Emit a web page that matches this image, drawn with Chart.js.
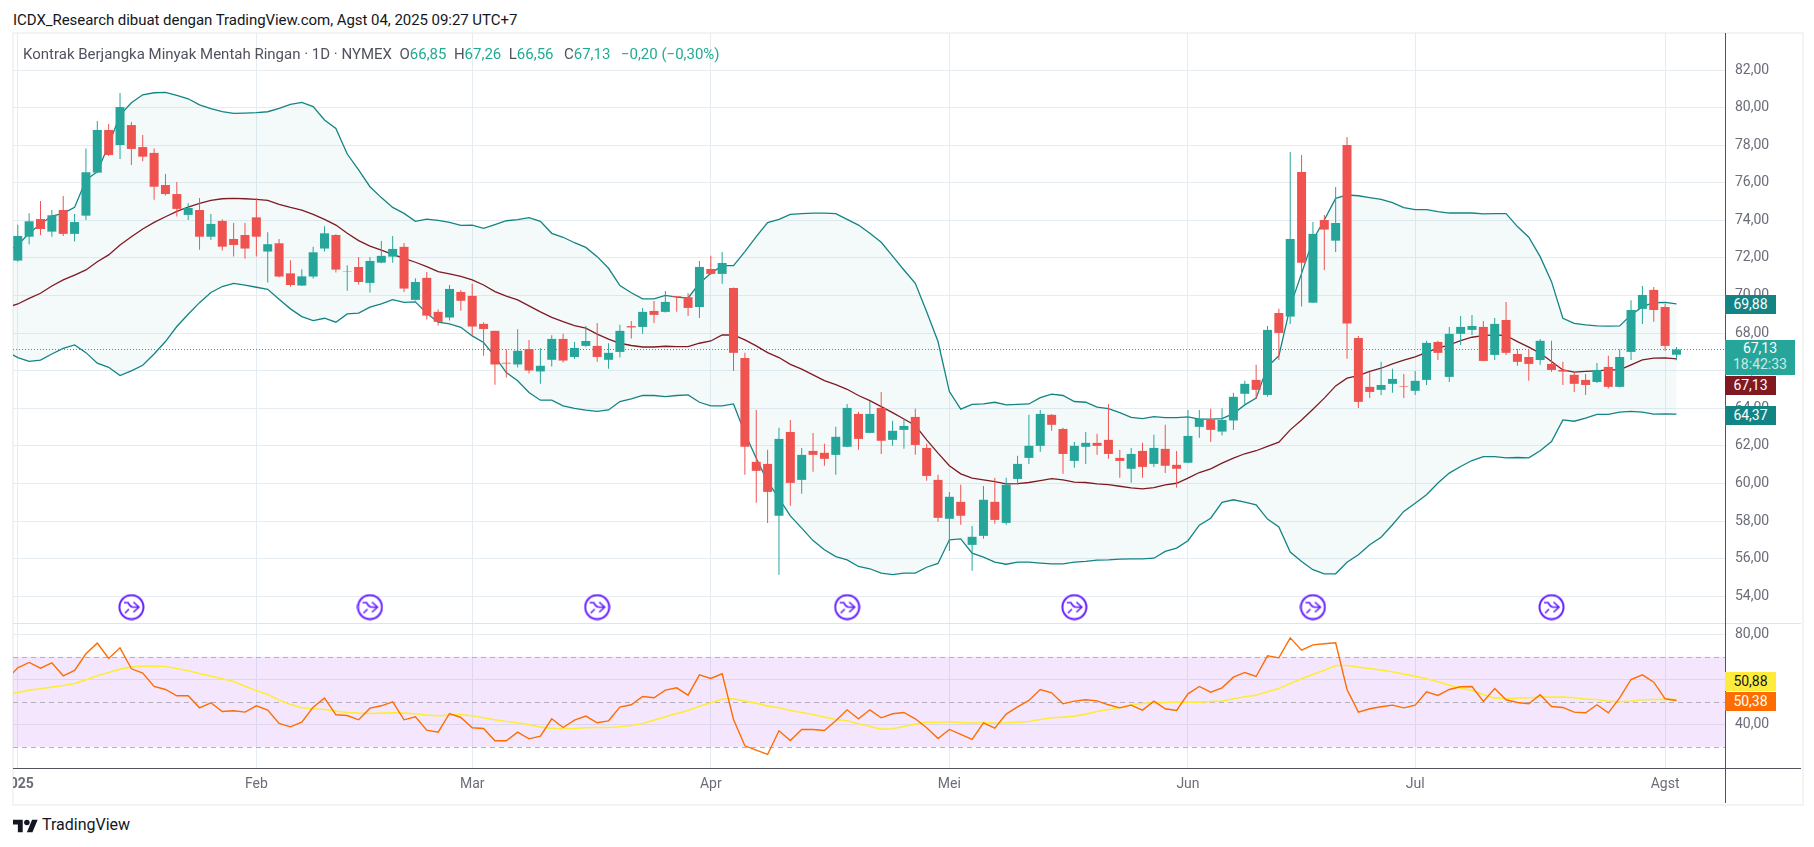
<!DOCTYPE html>
<html>
<head>
<meta charset="utf-8">
<script src="https://cdn.jsdelivr.net/npm/chart.js@4"></script>
<style>
  html, body { margin: 0; background: #fff; width: 1814px; height: 847px; overflow: hidden; font-family: Roboto, sans-serif; }
  canvas { position: absolute; left: 13px; }
  #cPrice { top: 33px; }
  #cRsi { top: 624px; }
  .abs { position: absolute; white-space: nowrap; }
  .frame { position: absolute; left: 12px; top: 32px; width: 1788px; height: 770px; border: 2px solid #f3f3f3; }
  .tag { position: absolute; left: 1725px; width: 51px; height: 19px; line-height: 19px; font-size: 14px; text-align: center; color: #fff; }
  #head { left: 13px; top: 10px; font-size: 15px; color: #131722; line-height: 20px; letter-spacing: -0.05px; }
  #legend { left: 23px; top: 44px; font-size: 15px; color: #50535e; line-height: 20px; }
  #legend b { font-weight: 400; color: #22ab94; }
  #legend i { font-style: normal; margin-left: 3px; }
  #logoText { left: 42px; top: 814px; font-size: 16px; color: #131722; line-height: 22px; }
</style>
</head>
<body>
<div class="frame"></div>
<canvas id="cPrice" width="1788" height="591"></canvas>
<canvas id="cRsi" width="1788" height="178"></canvas>

<div class="abs" style="left:13px;top:623px;width:1788px;height:1px;background:#e0e3eb"></div>
<div class="abs" style="left:13px;top:768px;width:1788px;height:1px;background:#50535e"></div>
<div class="abs" style="left:1725px;top:33px;width:1px;height:770px;background:#50535e"></div>

<div class="abs" id="head">ICDX_Research dibuat dengan TradingView.com, Agst 04, 2025 09:27 UTC+7</div>
<div class="abs" id="legend">Kontrak Berjangka Minyak Mentah Ringan · 1D · NYMEX&nbsp;&nbsp;O<b>66,85</b>&nbsp;&nbsp;H<b>67,26</b>&nbsp;&nbsp;L<b>66,56</b>&nbsp;&nbsp;<i>C</i><b>67,13</b>&nbsp;&nbsp;<i></i><b>−0,20 (−0,30%)</b></div>

<div class="tag" style="top:295px;background:#138484">69,88</div>
<div class="tag" style="top:340px;width:70px;height:35px;background:#26a69a;line-height:16px;padding-top:0">67,13<br><span style="opacity:.75">18:42:33</span></div>
<div class="tag" style="top:376px;background:#801922">67,13</div>
<div class="tag" style="top:406px;background:#138484">64,37</div>
<div class="tag" style="top:672px;background:#ffeb3b;color:#131722">50,88</div>
<div class="tag" style="top:692px;background:#ff6d00">50,38</div>

<svg class="abs" style="left:13px;top:818px" width="25" height="16" viewBox="0 3 36 20"><path fill="#131722" d="M14 22H7V11H0V4h14v18ZM28 22h-8l7.5-18h8L28 22Z"/><circle fill="#131722" cx="20" cy="8" r="4"/></svg>
<div class="abs" id="logoText">TradingView</div>

<script>
const opens = [71.86,73.13,74.07,73.40,74.55,73.28,74.25,76.54,78.81,78.01,79.07,77.90,77.59,75.88,75.40,74.29,74.55,73.13,73.97,73.01,73.22,74.16,72.34,72.78,71.18,70.53,71.01,72.50,73.22,71.27,71.52,70.67,71.75,72.07,72.59,69.77,70.94,69.13,68.83,70.19,69.98,68.49,68.12,66.42,66.33,67.15,65.96,66.58,67.69,66.73,67.32,67.32,66.58,67.00,68.37,68.33,69.18,69.13,69.96,69.91,69.39,71.41,71.15,70.40,66.68,61.15,61.04,58.28,62.74,60.19,61.73,61.63,61.52,61.95,63.70,62.69,64.02,62.32,62.85,63.54,61.89,60.19,58.12,59.02,56.73,57.21,59.02,57.90,60.24,61.36,62.00,63.65,62.90,61.20,61.95,62.16,62.32,61.36,60.78,61.73,61.04,61.84,60.99,61.10,63.01,63.38,62.76,63.35,64.77,65.51,64.71,69.07,68.88,76.57,69.62,74.02,72.92,78.01,67.74,65.14,64.98,65.30,65.17,64.93,65.51,67.53,65.67,67.96,68.17,68.33,66.84,68.70,66.89,66.73,66.57,66.36,66.04,65.78,65.51,65.40,66.20,65.14,67.00,69.29,70.30,69.39,66.85];
const highs = [73.76,74.38,75.03,74.55,75.30,74.34,77.83,79.29,79.13,80.78,79.23,78.54,77.83,76.47,76.04,74.91,75.19,74.34,74.06,73.86,73.86,75.19,73.37,73.01,71.88,71.40,72.59,73.68,73.26,71.61,72.05,72.05,72.90,73.17,72.80,70.92,71.25,69.27,70.56,70.30,70.62,68.58,68.12,67.14,68.21,67.63,67.20,67.89,67.96,67.53,68.38,68.54,67.46,68.44,68.65,69.34,69.71,70.24,69.98,70.14,71.84,72.11,72.32,70.43,66.95,63.91,61.79,62.96,63.38,61.89,62.69,62.11,63.01,64.23,63.81,64.39,64.87,63.33,63.40,63.97,62.11,60.46,59.55,59.93,57.74,59.87,60.30,60.30,61.47,63.65,63.91,63.70,62.96,62.21,62.74,62.64,64.23,61.79,61.89,62.16,62.59,63.12,61.73,63.91,63.91,63.97,64.00,64.82,65.46,66.31,68.38,69.29,77.64,77.48,73.91,74.29,75.78,78.44,67.85,65.95,66.47,66.10,65.83,65.99,67.59,67.59,68.33,68.91,68.97,68.65,68.81,69.66,67.16,67.11,67.69,67.59,66.47,65.92,65.83,66.41,66.79,67.14,69.75,70.51,70.46,69.55,67.26];
const lows = [71.80,72.73,73.22,73.13,73.17,72.87,74.02,76.50,77.43,77.27,76.95,77.14,75.09,75.32,74.20,74.02,72.43,72.96,72.39,72.07,71.96,72.07,70.69,70.97,70.47,70.51,70.90,72.34,71.22,70.26,70.58,70.16,71.72,71.75,70.19,69.73,68.73,68.40,68.67,69.19,67.90,66.79,65.25,65.64,66.17,65.85,65.31,66.22,66.43,66.62,67.27,66.47,66.10,66.70,67.71,67.96,68.54,69.09,69.13,68.91,68.81,71.10,70.62,65.99,60.46,58.97,57.90,55.14,58.81,59.45,60.62,60.94,60.46,61.93,61.79,62.67,61.57,62.00,61.84,61.52,60.14,57.96,56.41,57.80,55.35,57.05,57.85,57.80,59.93,61.04,61.68,62.80,60.51,60.83,61.04,61.52,61.31,60.30,60.03,60.30,60.88,60.56,59.77,61.08,62.43,62.21,62.55,62.85,64.20,64.50,64.62,66.57,68.49,69.41,69.60,71.36,72.32,66.63,64.02,64.55,64.71,64.82,64.55,64.71,65.24,66.57,65.40,67.37,67.90,66.50,66.57,66.84,66.26,65.46,66.31,65.94,65.24,64.87,64.71,65.35,65.05,65.10,66.57,68.49,68.60,67.05,66.56];
const closes = [73.17,73.95,73.54,74.27,73.28,73.91,76.56,78.81,77.48,80.03,77.80,77.39,75.79,75.40,74.61,74.66,73.13,73.81,72.60,72.69,72.50,73.13,72.73,71.01,70.56,71.02,72.30,73.31,71.38,71.29,70.72,71.84,72.11,72.48,70.37,70.72,68.93,68.60,70.35,69.72,68.35,68.22,66.33,66.38,67.06,66.01,66.26,67.69,66.54,67.21,67.58,66.73,66.95,68.12,68.30,69.13,68.97,69.66,69.92,69.34,71.52,71.15,71.73,66.95,61.95,60.67,59.55,62.37,60.03,61.52,61.52,61.31,62.48,64.02,62.37,63.70,62.27,62.80,63.06,62.05,60.40,58.17,59.29,58.28,57.16,59.13,58.06,59.93,61.04,62.00,63.70,63.12,61.57,62.00,62.16,62.00,61.57,61.20,61.57,60.88,61.89,60.94,60.78,62.53,63.44,62.85,63.38,64.61,65.30,64.98,68.17,68.01,73.01,71.75,73.28,73.51,73.86,68.51,64.34,64.87,65.24,65.56,65.14,65.46,67.48,66.95,67.96,68.33,68.38,66.52,68.49,66.95,66.47,66.36,67.59,66.04,65.95,65.30,65.24,66.04,65.14,66.73,69.23,70.03,69.23,67.32,67.13];

// bands and rsi start one bar before the first candle, that bar is cut by the left edge
const bbUpper = [72.30,72.69,73.31,73.81,74.23,74.37,74.69,76.15,76.59,78.01,79.60,80.26,80.68,80.79,80.81,80.65,80.47,80.15,79.94,79.78,79.69,79.71,79.73,79.78,79.96,80.17,80.28,80.05,79.34,78.89,77.53,76.68,75.79,75.21,74.69,74.37,73.95,74.07,74.00,73.89,73.73,73.75,73.57,73.77,73.98,74.04,74.14,73.95,73.31,73.10,72.81,72.56,72.07,71.45,70.53,70.15,69.82,69.82,70.01,69.91,69.87,70.65,71.18,71.59,71.59,72.34,73.13,73.88,74.05,74.32,74.36,74.38,74.38,74.36,74.05,73.75,73.31,72.83,72.10,71.36,70.65,69.14,67.55,64.89,63.95,64.21,64.23,64.32,64.18,64.21,64.23,64.57,64.75,64.68,64.36,64.32,64.06,63.98,63.77,63.52,63.45,63.56,63.50,63.50,63.54,63.42,63.42,63.45,63.71,64.18,64.54,66.22,66.79,69.41,71.18,72.96,74.02,75.17,75.35,75.31,75.21,75.12,74.94,74.68,74.57,74.57,74.46,74.39,74.39,74.39,74.34,74.36,74.36,73.67,73.10,72.07,70.74,68.79,68.52,68.44,68.38,68.37,68.38,68.97,69.41,69.62,69.64,69.55];
const bbBasis = [69.35,69.55,69.85,70.12,70.51,70.83,71.09,71.36,71.80,72.16,72.69,73.13,73.54,73.89,74.19,74.48,74.71,74.90,75.06,75.15,75.17,75.15,75.12,75.06,74.85,74.69,74.55,74.32,74.05,73.75,73.31,72.92,72.63,72.42,72.19,71.98,71.77,71.54,71.27,71.15,71.02,70.83,70.56,70.21,69.97,69.77,69.45,69.13,68.84,68.61,68.40,68.26,67.95,67.68,67.46,67.34,67.26,67.26,67.30,67.28,67.28,67.46,67.58,67.90,67.90,67.64,67.32,66.96,66.70,66.34,66.08,65.78,65.47,65.26,65.01,64.68,64.41,64.09,63.77,63.43,63.08,62.32,61.61,60.94,60.51,60.28,60.19,60.10,59.98,59.99,60.05,60.15,60.26,60.19,60.07,60.05,59.98,59.94,59.85,59.76,59.71,59.78,59.92,60.01,60.28,60.58,60.78,61.08,61.35,61.58,61.74,61.97,62.20,62.85,63.38,63.95,64.54,65.19,65.60,65.74,65.96,66.13,66.36,66.56,66.74,66.97,67.20,67.37,67.60,67.78,67.87,67.91,67.87,67.55,67.25,66.93,66.49,66.04,65.92,65.96,65.99,66.04,66.04,66.31,66.58,66.67,66.68,66.63];
const bbLower = [67.02,66.70,66.50,66.56,66.89,67.19,67.37,66.96,66.40,66.18,65.74,65.99,66.29,66.89,67.55,68.35,69.00,69.62,70.16,70.48,70.65,70.55,70.44,70.33,69.80,69.29,68.88,68.67,68.79,68.58,69.02,69.06,69.38,69.55,69.78,69.64,69.66,69.06,68.58,68.49,68.31,67.85,67.50,66.75,65.90,65.46,64.84,64.43,64.43,64.13,64.00,63.90,63.83,63.91,64.36,64.50,64.68,64.68,64.62,64.68,64.71,64.32,64.13,64.13,64.23,62.67,61.34,60.10,59.21,58.27,57.62,56.96,56.47,56.11,55.93,55.58,55.46,55.23,55.15,55.23,55.23,55.54,55.74,57.00,57.05,56.29,56.08,55.81,55.70,55.81,55.81,55.76,55.72,55.72,55.81,55.85,55.92,55.93,55.97,55.99,55.99,56.02,56.38,56.56,56.95,57.78,58.15,58.99,59.13,59.01,58.86,58.10,57.68,56.35,55.85,55.41,55.19,55.19,55.81,56.20,56.74,57.14,57.80,58.51,58.95,59.40,60.02,60.55,60.90,61.22,61.43,61.43,61.36,61.38,61.36,61.74,62.23,63.38,63.31,63.47,63.67,63.67,63.79,63.83,63.79,63.69,63.70,63.69];
const rsiValues = [59.90,65.11,67.48,64.96,67.33,61.55,63.92,71.33,76.07,69.26,74.00,64.67,62.74,56.81,55.48,52.67,52.67,47.33,49.55,45.70,46.00,45.41,48.22,46.29,40.37,38.89,40.96,47.63,51.63,44.22,43.92,42.00,47.18,48.22,50.00,42.00,43.33,37.41,36.52,44.81,43.04,38.44,38.15,32.67,32.67,36.52,33.55,34.74,42.44,38.59,41.85,43.63,40.67,41.55,47.63,48.67,52.37,51.78,55.18,56.22,52.96,62.00,60.37,62.44,42.15,30.44,28.52,26.59,37.11,32.81,37.70,37.70,37.26,41.55,46.44,42.44,46.44,42.89,44.67,45.26,42.44,38.44,33.70,37.70,35.48,33.26,40.67,38.29,44.52,47.78,50.59,55.48,54.00,49.11,50.29,50.89,50.44,48.67,47.33,48.52,46.29,50.29,46.89,46.15,53.55,56.81,54.29,56.22,60.96,63.04,61.26,70.44,69.55,78.44,72.96,75.33,75.78,76.22,55.48,45.41,46.89,47.78,48.52,47.33,48.52,54.44,52.81,55.48,56.67,56.81,50.15,55.92,50.89,49.70,49.11,53.11,47.92,47.48,45.41,45.11,48.67,45.11,51.78,59.92,62.00,58.74,51.33,50.59];
const rsiMa = [53.40,54.15,55.18,55.78,56.52,57.26,58.15,59.78,61.55,63.04,64.52,65.41,65.85,65.85,65.70,64.81,63.78,62.59,61.41,60.22,59.04,56.96,55.04,53.26,50.74,48.81,47.33,46.89,46.59,45.85,45.26,44.96,44.81,44.96,45.11,44.96,44.67,44.07,43.78,44.07,44.37,43.78,42.89,42.00,41.26,40.67,39.78,38.74,38.15,38.15,38.15,38.44,38.59,38.59,38.89,39.48,40.37,41.85,43.33,44.81,46.15,48.07,49.55,51.18,51.33,50.29,49.41,48.07,47.33,46.15,45.26,44.37,43.18,42.15,41.55,40.22,39.04,37.85,38.00,39.04,40.07,40.96,40.81,41.11,40.81,40.52,40.81,40.52,40.67,40.96,41.26,42.15,42.89,43.18,43.63,44.52,45.70,46.59,47.33,48.67,49.26,49.70,49.70,49.85,49.85,49.85,50.15,50.29,51.33,52.22,52.96,54.44,55.92,58.15,60.22,62.15,64.07,66.15,66.15,65.41,64.81,64.07,63.33,62.30,61.41,60.22,58.89,57.41,56.07,55.04,53.26,51.63,51.48,51.63,51.78,52.07,52.07,52.07,51.78,51.18,51.04,50.29,50.00,50.29,50.89,51.04,51.18,51.04];

const monthBars = [0, 21, 40, 61, 82, 103, 123, 145];
const monthNames = ['2025', 'Feb', 'Mar', 'Apr', 'Mei', 'Jun', 'Jul', 'Agst'];
const priceTicks = [82, 80, 78, 76, 74, 72, 70, 68, 66, 64, 62, 60, 58, 56, 54];
const rsiTicks = [80, 60, 40];
const rsiLevels = [70, 50, 30];
const eventBars = [10, 31, 51, 73, 93, 114, 135];
const eventPrice = [53.42, 53.42, 53.42, 53.42, 53.42, 53.42, 53.42];

const GREEN = '#26a69a', RED = '#ef5350', TEAL = '#138484', MAROON = '#801922';
const GRID = '#e5ecf2', TEXT = '#6a6d78';
const xMin = -0.42, xMax = 150.27;
const comma = v => v.toFixed(2).replace('.', ',');
const candleColor = opens.map((o, i) => closes[i] >= o ? GREEN : RED);
const lineData = arr => arr.map((v, i) => ({x: i - 1, y: v}));

// little icon for the events row
function makeIcon() {
    const c = document.createElement('canvas');
    c.width = 27; c.height = 27;
    const g = c.getContext('2d');
    g.strokeStyle = '#651fff'; g.lineWidth = 2;
    g.beginPath(); g.arc(13.5, 13.5, 12, 0, Math.PI * 2); g.stroke();
    g.lineWidth = 1.6;
    g.beginPath(); g.moveTo(6, 9); g.lineTo(10, 9); g.quadraticCurveTo(12.5, 13.5, 15, 13.5); g.lineTo(20, 13.5); g.stroke();
    g.beginPath(); g.moveTo(15.5, 8.5); g.lineTo(21, 13.5); g.lineTo(15.5, 18.5); g.stroke();
    g.beginPath(); g.moveTo(7, 19.5); g.lineTo(11, 15.5); g.stroke();
    return c;
}

// vertical month lines and x axis shared by both panes
function xScale(showLabels) {
    return {
        type: 'linear', min: xMin, max: xMax, offset: false,
        afterBuildTicks: s => { s.ticks = monthBars.map(v => ({value: v})); },
        afterFit: s => { s.height = showLabels ? 34 : 0; s.paddingLeft = 0; s.paddingRight = 0; },
        grid: {color: GRID, drawTicks: false, offset: false},
        border: {display: false},
        ticks: {
            display: showLabels, autoSkip: false, maxRotation: 0, color: TEXT, padding: 8,
            font: c => ({family: 'Roboto', size: 14, weight: c.tick && c.tick.value === 0 ? 'bold' : 'normal'}),
            callback: v => monthNames[monthBars.indexOf(v)]
        }
    };
}

function yScale(min, max, ticks) {
    return {
        position: 'right', min, max,
        afterBuildTicks: s => { s.ticks = ticks.map(v => ({value: v})); },
        afterFit: s => { s.width = 76; s.paddingTop = 0; s.paddingBottom = 0; },
        grid: {color: GRID, drawTicks: false},
        border: {display: false},
        ticks: {color: TEXT, padding: 10, font: {family: 'Roboto', size: 14}, callback: comma}
    };
}

const lastLine = {
    id: 'lastLine',
    afterDatasetsDraw(chart) {
        const {ctx, chartArea: a, scales: {y}} = chart;
        const p = Math.round(y.getPixelForValue(closes[closes.length - 1])) + 0.5;
        ctx.save();
        ctx.strokeStyle = GREEN; ctx.lineWidth = 1; ctx.setLineDash([1, 2]);
        ctx.beginPath(); ctx.moveTo(a.left, p); ctx.lineTo(a.right, p); ctx.stroke();
        ctx.restore();
    }
};

const rsiBand = {
    id: 'rsiBand',
    beforeDatasetsDraw(chart) {
        const {ctx, chartArea: a, scales: {y}} = chart;
        const top = y.getPixelForValue(rsiLevels[0]), bot = y.getPixelForValue(rsiLevels[2]);
        ctx.save();
        ctx.fillStyle = 'rgba(175,82,240,0.14)';
        ctx.fillRect(a.left, top, a.right - a.left, bot - top);
        ctx.strokeStyle = '#b5b0bd'; ctx.lineWidth = 1; ctx.setLineDash([5, 4]);
        rsiLevels.forEach(l => {
            const p = Math.round(y.getPixelForValue(l)) + 0.5;
            ctx.beginPath(); ctx.moveTo(a.left, p); ctx.lineTo(a.right, p); ctx.stroke();
        });
        ctx.restore();
    }
};

const baseOptions = {
    responsive: false, animation: false, events: [],
    layout: {padding: 0, autoPadding: false},
    plugins: {legend: {display: false}, tooltip: {enabled: false}}
};

new Chart(document.getElementById('cPrice'), {
    type: 'bar',
    data: {
        datasets: [
            {type: 'line', label: 'Upper', data: lineData(bbUpper), borderColor: TEAL, borderWidth: 1.3, pointRadius: 0, fill: {target: 2}, backgroundColor: 'rgba(38,166,154,0.05)', order: 5},
            {type: 'line', label: 'Basis', data: lineData(bbBasis), borderColor: MAROON, borderWidth: 1.3, pointRadius: 0, order: 4},
            {type: 'line', label: 'Lower', data: lineData(bbLower), borderColor: TEAL, borderWidth: 1.3, pointRadius: 0, order: 5},
            {label: 'Wick', data: lows.map((l, i) => ({x: i, y: [l, highs[i]]})), backgroundColor: candleColor, barThickness: 1, grouped: false, inflateAmount: 0, order: 3},
            {label: 'Body', data: opens.map((o, i) => ({x: i, y: [o, closes[i]]})), backgroundColor: candleColor, barThickness: 9, grouped: false, inflateAmount: 0, order: 2},
            {type: 'line', label: 'Events', data: eventBars.map((b, i) => ({x: b, y: eventPrice[i]})), showLine: false, pointStyle: makeIcon(), pointRadius: 13, order: 1}
        ]
    },
    options: {...baseOptions, scales: {x: xScale(false), y: yScale(52.52, 83.97, priceTicks)}},
    plugins: [lastLine]
});

new Chart(document.getElementById('cRsi'), {
    type: 'line',
    data: {
        datasets: [
            {label: 'RSI MA', data: lineData(rsiMa), borderColor: '#ffeb3b', borderWidth: 1.6, pointRadius: 0, order: 2},
            {label: 'RSI', data: lineData(rsiValues), borderColor: '#ff6d00', borderWidth: 1.4, pointRadius: 0, order: 1}
        ]
    },
    options: {...baseOptions, scales: {x: xScale(true), y: yScale(20.58, 84.58, rsiTicks)}},
    plugins: [rsiBand]
});
</script>
</body>
</html>
